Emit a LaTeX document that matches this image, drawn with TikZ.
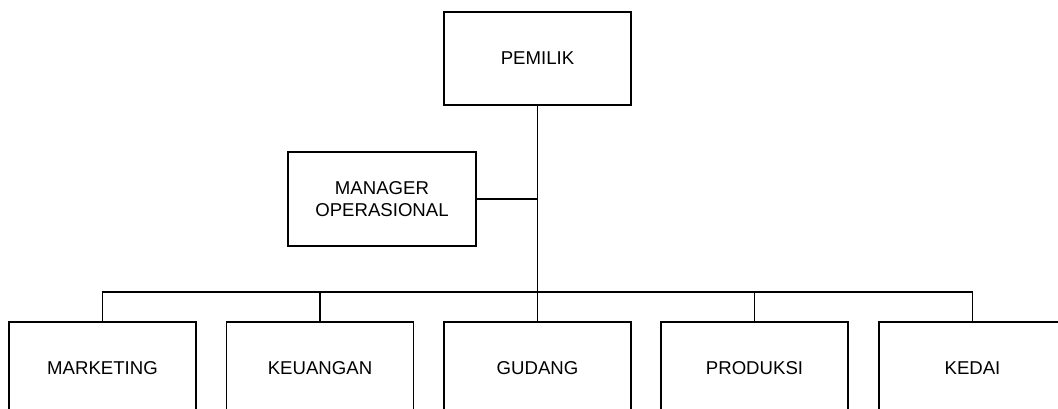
\documentclass[tikz,border=0pt]{standalone}
\usepackage{fontspec}
\setmainfont{Liberation Sans}
\usepackage{tikz}
\usetikzlibrary{positioning}
\tikzset{
  kotak/.style={draw=black,line width=1.3pt,fill=white,minimum width=187pt,minimum height=93pt,inner sep=0pt,align=center,font=\fontsize{18.6}{21.6}\selectfont},
  garis/.style={draw=black,line width=1.3pt}
}
\begin{document}
\begin{tikzpicture}[x=1pt,y=-1pt]
\useasboundingbox (0,0) rectangle (1058,409);
\clip (0,0) rectangle (1058,409);
\node[kotak] (pemilik) at (537.5,58.5) {PEMILIK};
\node[kotak,minimum width=188pt,minimum height=94pt] (manager) at (382,199) {MANAGER\\OPERASIONAL};
\foreach \x/\nama/\teks in {102.5/marketing/MARKETING,320/keuangan/KEUANGAN,537.5/gudang/GUDANG,754.5/produksi/PRODUKSI,972.5/kedai/KEDAI}{
  \node[kotak] (\nama) at (\x,368.5) {\teks};
}
\coordinate (bus) at (537.5,292);
\draw[garis] (pemilik.south) -- (gudang.north);
\draw[garis] (manager.east) -- (manager.east -| pemilik.south);
\draw[garis] (marketing.north) |- (bus) -| (kedai.north);
\foreach \nama in {keuangan,produksi}{\draw[garis] (\nama.north) -- (\nama.north |- bus);}
\end{tikzpicture}
\end{document}
